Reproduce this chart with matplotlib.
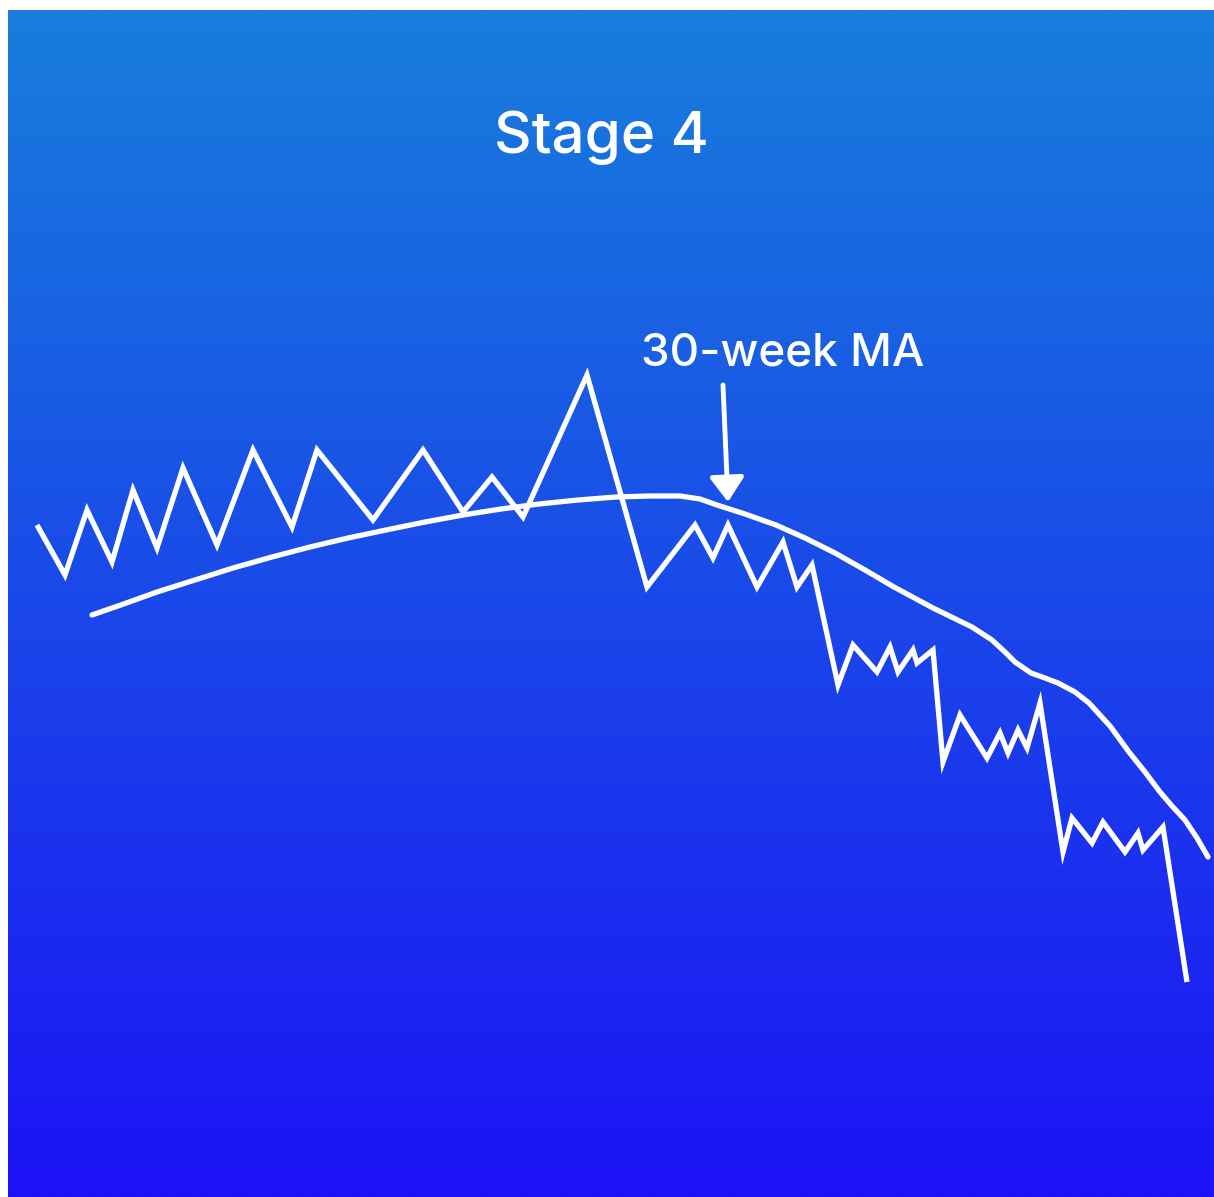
import matplotlib.pyplot as plt
import numpy as np

# price path (zig-zag), image pixel coordinates
price_x = [37, 65, 87, 112, 133, 157, 183, 217, 253, 292, 317, 373, 423, 463, 492, 523,
           587, 647, 695, 713, 728, 757, 783, 797, 812, 838, 853, 877, 890, 898, 913, 917,
           933, 943, 960, 987, 1000, 1008, 1018, 1027, 1040, 1063, 1072, 1092, 1103, 1125,
           1138, 1143, 1163, 1187]
price_y = [525, 575, 510, 562, 490, 548, 468, 545, 450, 527, 450, 520, 450, 512, 477, 517,
           375, 587, 525, 558, 525, 587, 542, 587, 565, 685, 645, 672, 647, 672, 650, 663,
           650, 762, 715, 758, 733, 753, 730, 748, 703, 852, 818, 843, 822, 852,
           833, 850, 827, 982]

# 30-week moving average curve
ma_x = [92, 125, 157, 195, 233, 272, 310, 348, 386, 425, 463, 501, 539, 578, 616, 650,
        680, 700, 717, 745, 776, 805, 835, 865, 894, 933, 972, 992, 1005, 1015, 1031,
        1045, 1058, 1075, 1089, 1110, 1129, 1145, 1160, 1172, 1185, 1197, 1208]
ma_y = [615, 603.5, 592, 580, 568, 557, 547, 538, 530, 522, 515, 509, 504, 500, 497, 496,
        496, 499, 505, 514, 525, 538, 553, 570, 587, 608, 627, 640, 652, 662, 673,
        678, 683, 692, 703, 726, 752, 772, 792, 806, 820, 838, 857]

title = "Stage 4"
ma_label = "30-week MA"

W, H = 1214, 1197
fig = plt.figure(figsize=(W / 100, H / 100), dpi=100, facecolor="white")
ax = fig.add_axes([0, 0, 1, 1])
ax.set_xlim(0, W)
ax.set_ylim(H, 0)
ax.axis("off")

# vertical gradient background
top = np.array([24, 126, 220]) / 255
bot = np.array([28, 18, 246]) / 255
t = np.linspace(0, 1, 256)[:, None]
grad = (top * (1 - t) + bot * t)[:, None, :]
ax.imshow(grad, extent=(8, W, H, 10), aspect="auto", interpolation="bilinear", zorder=0)

lw = 3.8
ax.plot(ma_x, ma_y, color="white", lw=lw, solid_capstyle="round",
        solid_joinstyle="round", zorder=2)
ax.plot(price_x, price_y, color="white", lw=lw, solid_joinstyle="miter",
        solid_capstyle="butt", zorder=3)

ax.text(601, 153, title, color="white", fontsize=42, fontfamily="Inter",
        fontweight="medium", ha="center", va="baseline")
ax.text(783, 365, ma_label, color="white", fontsize=33, fontfamily="Inter",
        fontweight="medium", ha="center", va="baseline")

ax.annotate("", xy=(728, 502), xytext=(723, 385),
            arrowprops=dict(arrowstyle="-|>,head_length=1.5,head_width=1.05",
                            color="white", lw=3.5, shrinkA=0, shrinkB=0))

fig.savefig("out.png", dpi=100, facecolor="white")
